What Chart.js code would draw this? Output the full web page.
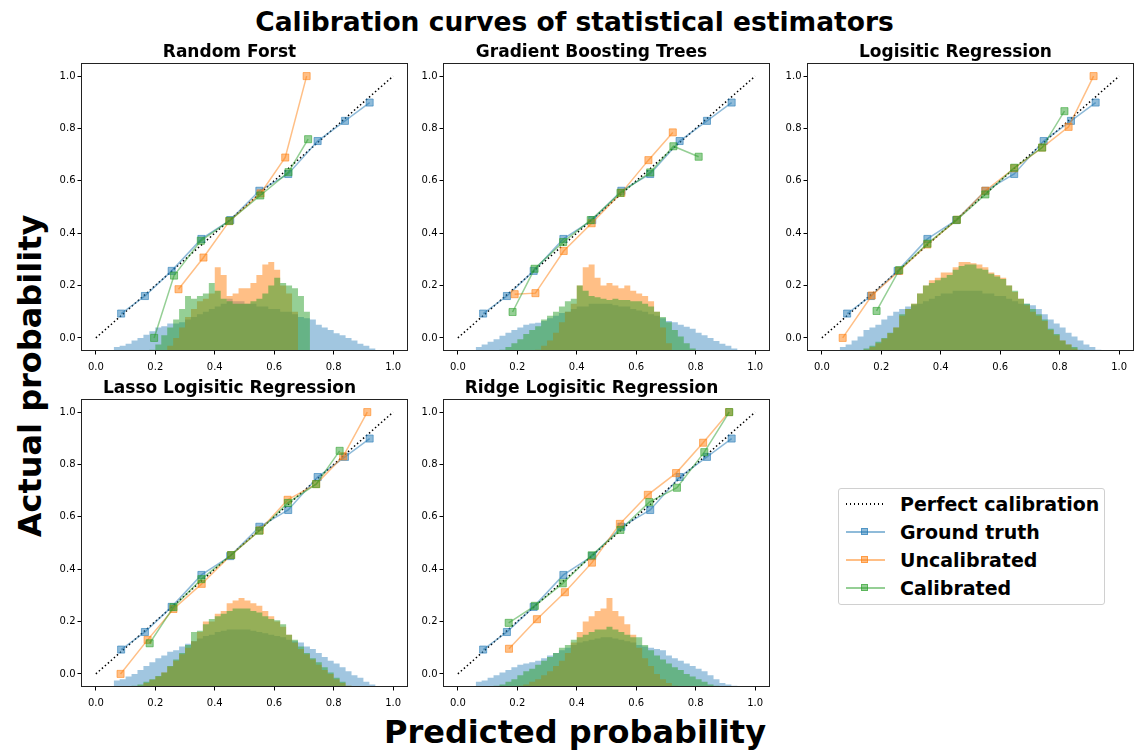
<!DOCTYPE html>
<html lang="en">
<head>
    <meta charset="UTF-8">
    <title>Calibration curves of statistical estimators</title>
    <script src="https://cdn.jsdelivr.net/npm/chart.js"></script>
    <style>
        html, body {
            margin: 0;
            padding: 0;
            background: #fff;
            overflow: hidden;
        }
        body {
            position: relative;
            width: 1135px;
            height: 754px;
            font-family: 'DejaVu Sans', sans-serif;
            color: #000;
        }
        canvas.panel {
            position: absolute;
        }
        .fig-text {
            position: absolute;
            font-weight: bold;
            line-height: 1;
            white-space: nowrap;
            transform: translateX(-50%);
        }
        .legend {
            position: absolute;
            left: 838px;
            top: 488px;
            width: 267px;
            height: 117px;
            border: 1px solid #d0d0d0;
            border-radius: 3px;
            box-sizing: border-box;
        }
        .legend-row {
            position: absolute;
            left: 0;
            height: 24px;
            width: 100%;
        }
        .legend-line {
            position: absolute;
            left: 7px;
            top: 11px;
            width: 39px;
            height: 1.5px;
        }
        .legend-mark {
            position: absolute;
            left: 22px;
            top: 8px;
            width: 7px;
            height: 7px;
            box-sizing: border-box;
        }
        .legend-label {
            position: absolute;
            left: 61px;
            top: 2px;
            font-size: 19px;
            font-weight: bold;
            line-height: 20px;
            white-space: nowrap;
        }
    </style>
</head>
<body>
    <div class="fig-text" style="left:574.5px; top:9px; font-size:26.5px;">Calibration curves of statistical estimators</div>
    <div class="fig-text" style="left:575px; top:716px; font-size:32px;">Predicted probability</div>
    <div class="fig-text" style="left:30px; top:360px; font-size:32px; transform: translateX(-50%) rotate(-90deg);">Actual probability</div>

    <div class="legend" id="legend"></div>

    <script>
        // axis ticks
        const tickValues = [0, 0.2, 0.4, 0.6, 0.8, 1.0];
        const perfectX = [0, 1];
        const perfectY = [0, 1];

        // histogram bin edges (left edges, last one closes the final bin)
        const binEdges = [0.06, 0.08, 0.10, 0.12, 0.14, 0.16, 0.18, 0.20, 0.22, 0.24,
                          0.26, 0.28, 0.30, 0.32, 0.34, 0.36, 0.38, 0.40, 0.42, 0.44,
                          0.46, 0.48, 0.50, 0.52, 0.54, 0.56, 0.58, 0.60, 0.62, 0.64,
                          0.66, 0.68, 0.70, 0.72, 0.74, 0.76, 0.78, 0.80, 0.82, 0.84,
                          0.86, 0.88, 0.90, 0.92, 0.94, 0.96, 0.98];

        const panelTitles = ['Random Forst', 'Gradient Boosting Trees', 'Logisitic Regression',
                             'Lasso Logisitic Regression', 'Ridge Logisitic Regression'];

        // ground truth curve (same in every panel)
        const truthX = [0.085, 0.165, 0.255, 0.355, 0.452, 0.55, 0.647, 0.746, 0.838, 0.921];
        const truthY = [0.093, 0.16, 0.256, 0.378, 0.45, 0.562, 0.626, 0.752, 0.829, 0.899];

        // Random forest
        const rfUncalX = [0.278, 0.362, 0.449, 0.554, 0.637, 0.709];
        const rfUncalY = [0.186, 0.307, 0.446, 0.552, 0.689, 1.0];
        const rfCalX = [0.196, 0.263, 0.353, 0.449, 0.553, 0.648, 0.714];
        const rfCalY = [0.0, 0.238, 0.371, 0.447, 0.544, 0.633, 0.759];
        const rfHistTruth = [-0.05, -0.035, -0.03, -0.022, -0.01, 0.0, 0.012, 0.025, 0.04, 0.045,
                             0.055, 0.055, 0.06, 0.07, 0.08, 0.09, 0.1, 0.11, 0.12, 0.13,
                             0.15, 0.14, 0.14, 0.13, 0.13, 0.12, 0.12, 0.11, 0.11, 0.1,
                             0.1, 0.09, 0.08, 0.075, 0.07, 0.05, 0.04, 0.03, 0.018, 0.01,
                             0.0, -0.01, -0.022, -0.03, -0.04, -0.05];
        const rfHistUncal = [-0.05, -0.05, -0.05, -0.05, -0.05, -0.05, -0.05, -0.05, -0.05, -0.05,
                             -0.03, 0.0, 0.04, 0.08, 0.11, 0.14, 0.15, 0.17, 0.27, 0.24,
                             0.16, 0.17, 0.19, 0.19, 0.21, 0.24, 0.28, 0.29, 0.26, 0.2,
                             0.17, 0.1, -0.05, -0.05, -0.05, -0.05, -0.05, -0.05, -0.05, -0.05,
                             -0.05, -0.05, -0.05, -0.05, -0.05, -0.05];
        const rfHistCal = [-0.05, -0.05, -0.05, -0.05, -0.05, -0.05, -0.05, -0.045, -0.025, 0.01,
                           0.04, 0.07, 0.11, 0.16, 0.15, 0.16, 0.17, 0.21, 0.18, 0.15,
                           0.14, 0.13, 0.13, 0.13, 0.14, 0.15, 0.17, 0.2, 0.23, 0.21,
                           0.2, 0.19, 0.16, 0.1, -0.05, -0.05, -0.05, -0.05, -0.05, -0.05,
                           -0.05, -0.05, -0.05, -0.05, -0.05, -0.05];

        // Gradient boosting trees
        const gbUncalX = [0.191, 0.261, 0.356, 0.45, 0.55, 0.641, 0.723];
        const gbUncalY = [0.167, 0.171, 0.332, 0.438, 0.554, 0.679, 0.785];
        const gbCalX = [0.184, 0.258, 0.354, 0.447, 0.547, 0.647, 0.725, 0.81];
        const gbCalY = [0.099, 0.264, 0.366, 0.45, 0.554, 0.632, 0.732, 0.692];
        const gbHistTruth = [-0.05, -0.035, -0.025, -0.015, -0.005, 0.008, 0.02, 0.03, 0.04, 0.05,
                             0.055, 0.058, 0.065, 0.075, 0.085, 0.095, 0.1, 0.11, 0.12, 0.12,
                             0.13, 0.13, 0.13, 0.13, 0.125, 0.12, 0.12, 0.11, 0.105, 0.1,
                             0.09, 0.085, 0.075, 0.065, 0.06, 0.05, 0.043, 0.035, 0.02, 0.01,
                             0.0, -0.012, -0.022, -0.03, -0.04, -0.05];
        const gbHistUncal = [-0.05, -0.05, -0.05, -0.05, -0.05, -0.05, -0.05, -0.05, -0.05, -0.05,
                             -0.05, -0.045, -0.03, -0.01, 0.02, 0.06, 0.1, 0.13, 0.2, 0.27,
                             0.28, 0.23, 0.2, 0.21, 0.2, 0.19, 0.2, 0.18, 0.17, 0.16,
                             0.14, 0.1, 0.04, -0.02, -0.05, -0.05, -0.05, -0.05, -0.05, -0.05,
                             -0.05, -0.05, -0.05, -0.05, -0.05, -0.05];
        const gbHistCal = [-0.05, -0.05, -0.05, -0.05, -0.05, -0.045, -0.035, -0.02, -0.005, 0.015,
                           0.03, 0.045, 0.07, 0.085, 0.1, 0.12, 0.14, 0.15, 0.2, 0.18,
                           0.16, 0.155, 0.15, 0.145, 0.15, 0.145, 0.145, 0.14, 0.14, 0.13,
                           0.12, 0.1, 0.08, 0.06, 0.03, 0.005, -0.02, -0.04, -0.05, -0.05,
                           -0.05, -0.05, -0.05, -0.05, -0.05, -0.05];

        // Logistic regression
        const lrUncalX = [0.07, 0.168, 0.26, 0.355, 0.454, 0.55, 0.647, 0.741, 0.83, 0.914];
        const lrUncalY = [0.0, 0.162, 0.256, 0.357, 0.451, 0.562, 0.648, 0.727, 0.806, 1.0];
        const lrCalX = [0.184, 0.26, 0.355, 0.454, 0.55, 0.647, 0.741, 0.816];
        const lrCalY = [0.103, 0.259, 0.36, 0.451, 0.548, 0.65, 0.727, 0.866];
        const lrHistTruth = [-0.05, -0.035, -0.025, -0.01, 0.005, 0.03, 0.04, 0.05, 0.07, 0.085,
                             0.1, 0.11, 0.12, 0.125, 0.13, 0.14, 0.15, 0.16, 0.17, 0.17,
                             0.18, 0.18, 0.18, 0.18, 0.18, 0.17, 0.17, 0.16, 0.16, 0.15,
                             0.14, 0.13, 0.13, 0.125, 0.11, 0.09, 0.07, 0.055, 0.04, 0.02,
                             0.005, -0.01, -0.025, -0.035, -0.045, -0.05];
        const lrHistUncal = [-0.05, -0.05, -0.05, -0.05, -0.05, -0.045, -0.035, -0.02, -0.003, 0.018,
                             0.04, 0.085, 0.11, 0.13, 0.17, 0.2, 0.22, 0.23, 0.25, 0.25,
                             0.27, 0.29, 0.29, 0.285, 0.28, 0.27, 0.25, 0.24, 0.23, 0.2,
                             0.175, 0.15, 0.125, 0.1, 0.085, 0.065, 0.03, 0.01, -0.01, -0.025,
                             -0.04, -0.048, -0.05, -0.05, -0.05, -0.05];
        const lrHistCal = [-0.05, -0.05, -0.05, -0.05, -0.05, -0.04, -0.03, -0.015, 0.0, 0.02,
                           0.04, 0.09, 0.11, 0.13, 0.17, 0.2, 0.21, 0.22, 0.23, 0.24,
                           0.26, 0.275, 0.28, 0.28, 0.265, 0.26, 0.245, 0.235, 0.225, 0.2,
                           0.18, 0.15, 0.13, 0.11, 0.09, 0.07, 0.035, 0.015, -0.01, -0.025,
                           -0.035, -0.045, -0.05, -0.05, -0.05, -0.05];

        // Lasso logistic regression
        const lassoUncalX = [0.083, 0.174, 0.261, 0.356, 0.455, 0.551, 0.645, 0.741, 0.832, 0.913];
        const lassoUncalY = [0.0, 0.13, 0.248, 0.344, 0.454, 0.548, 0.665, 0.725, 0.831, 1.0];
        const lassoCalX = [0.181, 0.261, 0.355, 0.455, 0.55, 0.646, 0.741, 0.82];
        const lassoCalY = [0.117, 0.255, 0.362, 0.454, 0.547, 0.653, 0.725, 0.852];
        const lassoHistTruth = [-0.05, -0.025, -0.02, -0.01, 0.0, 0.015, 0.03, 0.045, 0.06, 0.07,
                                0.085, 0.09, 0.105, 0.115, 0.125, 0.135, 0.145, 0.15, 0.16, 0.165,
                                0.17, 0.17, 0.17, 0.17, 0.165, 0.16, 0.155, 0.15, 0.145, 0.14,
                                0.13, 0.125, 0.12, 0.105, 0.095, 0.08, 0.065, 0.05, 0.04, 0.025,
                                0.01, -0.005, -0.015, -0.03, -0.04, -0.05];
        const lassoHistUncal = [-0.05, -0.05, -0.05, -0.05, -0.05, -0.045, -0.035, -0.022, -0.01, 0.005,
                                0.028, 0.05, 0.075, 0.1, 0.125, 0.16, 0.2, 0.2, 0.23, 0.24,
                                0.27, 0.28, 0.29, 0.28, 0.27, 0.26, 0.24, 0.22, 0.2, 0.18,
                                0.15, 0.12, 0.095, 0.075, 0.055, 0.035, 0.015, 0.0, -0.02, -0.035,
                                -0.045, -0.05, -0.05, -0.05, -0.05, -0.05];
        const lassoHistCal = [-0.05, -0.05, -0.05, -0.05, -0.045, -0.04, -0.03, -0.02, -0.008, 0.005,
                              0.03, 0.055, 0.08, 0.11, 0.16, 0.165, 0.19, 0.21, 0.22, 0.23,
                              0.24, 0.25, 0.25, 0.25, 0.24, 0.235, 0.22, 0.21, 0.205, 0.19,
                              0.15, 0.13, 0.105, 0.08, 0.06, 0.045, 0.025, 0.005, -0.015, -0.03,
                              -0.045, -0.05, -0.05, -0.05, -0.05, -0.05];

        // Ridge logistic regression
        const ridgeUncalX = [0.172, 0.266, 0.36, 0.451, 0.545, 0.639, 0.734, 0.825, 0.912];
        const ridgeUncalY = [0.096, 0.209, 0.312, 0.425, 0.573, 0.684, 0.767, 0.883, 1.0];
        const ridgeCalX = [0.171, 0.259, 0.353, 0.45, 0.547, 0.644, 0.737, 0.829, 0.913];
        const ridgeCalY = [0.195, 0.26, 0.346, 0.453, 0.55, 0.656, 0.711, 0.847, 1.0];
        const ridgeHistTruth = [-0.05, -0.03, -0.025, -0.015, -0.005, 0.005, 0.015, 0.025, 0.035, 0.04,
                                0.045, 0.05, 0.06, 0.07, 0.08, 0.09, 0.1, 0.11, 0.12, 0.125,
                                0.13, 0.135, 0.14, 0.14, 0.135, 0.13, 0.125, 0.12, 0.11, 0.105,
                                0.1, 0.095, 0.09, 0.07, 0.06, 0.05, 0.04, 0.03, 0.02, 0.01,
                                -0.005, -0.02, -0.035, -0.04, -0.045, -0.05];
        const ridgeHistUncal = [-0.05, -0.05, -0.05, -0.05, -0.05, -0.05, -0.05, -0.05, -0.045, -0.04,
                                -0.03, -0.02, -0.005, 0.01, 0.03, 0.05, 0.08, 0.12, 0.16, 0.2,
                                0.22, 0.24, 0.25, 0.29, 0.24, 0.22, 0.19, 0.15, 0.1, 0.06,
                                0.03, 0.0, -0.02, -0.035, -0.045, -0.05, -0.05, -0.05, -0.05, -0.05,
                                -0.05, -0.05, -0.05, -0.05, -0.05, -0.05];
        const ridgeHistCal = [-0.05, -0.05, -0.05, -0.05, -0.045, -0.04, -0.03, -0.02, -0.005, 0.01,
                              0.02, 0.035, 0.05, 0.065, 0.08, 0.1, 0.11, 0.13, 0.14, 0.15,
                              0.16, 0.17, 0.17, 0.18, 0.17, 0.16, 0.15, 0.14, 0.14, 0.11,
                              0.09, 0.07, 0.055, 0.04, 0.025, 0.015, 0.0, -0.01, -0.02, -0.03,
                              -0.04, -0.045, -0.05, -0.05, -0.05, -0.05];

        const panels = [
            { uncalX: rfUncalX, uncalY: rfUncalY, calX: rfCalX, calY: rfCalY,
              histTruth: rfHistTruth, histUncal: rfHistUncal, histCal: rfHistCal },
            { uncalX: gbUncalX, uncalY: gbUncalY, calX: gbCalX, calY: gbCalY,
              histTruth: gbHistTruth, histUncal: gbHistUncal, histCal: gbHistCal },
            { uncalX: lrUncalX, uncalY: lrUncalY, calX: lrCalX, calY: lrCalY,
              histTruth: lrHistTruth, histUncal: lrHistUncal, histCal: lrHistCal },
            { uncalX: lassoUncalX, uncalY: lassoUncalY, calX: lassoCalX, calY: lassoCalY,
              histTruth: lassoHistTruth, histUncal: lassoHistUncal, histCal: lassoHistCal },
            { uncalX: ridgeUncalX, uncalY: ridgeUncalY, calX: ridgeCalX, calY: ridgeCalY,
              histTruth: ridgeHistTruth, histUncal: ridgeHistUncal, histCal: ridgeHistCal }
        ];

        // plot area placement (left, top of the axes box, in page px)
        const boxes = [
            { left: 81, top: 63 }, { left: 443, top: 63 }, { left: 807, top: 63 },
            { left: 81, top: 399 }, { left: 443, top: 399 }
        ];
        const AXES_W = 327, AXES_H = 288;
        const Y_AXIS_W = 30, X_AXIS_H = 26, TITLE_H = 28, PAD_R = 12;

        const BLUE = '31,119,180', ORANGE = '255,127,14', GREEN = '44,160,44';
        const rgba = (c, a) => `rgba(${c},${a})`;

        Chart.defaults.font.family = "'DejaVu Sans', sans-serif";
        Chart.defaults.color = '#000';

        const pairs = (xs, ys) => xs.map((x, i) => ({ x: x, y: ys[i] }));
        const histPoints = vals => {
            const pts = vals.map((v, i) => ({ x: binEdges[i], y: v }));
            pts.push({ x: binEdges[binEdges.length - 1], y: -0.05 });
            return pts;
        };

        // axes frame on all four sides
        const framePlugin = {
            id: 'frame',
            afterDraw(chart) {
                const a = chart.chartArea;
                const ctx = chart.ctx;
                ctx.save();
                ctx.strokeStyle = '#222';
                ctx.lineWidth = 1;
                ctx.strokeRect(Math.round(a.left) + 0.5, Math.round(a.top) + 0.5,
                               Math.round(a.right - a.left) - 1, Math.round(a.bottom - a.top) - 1);
                ctx.restore();
            }
        };

        function curve(data, color, order) {
            return {
                data: data,
                borderColor: rgba(color, 0.5),
                backgroundColor: rgba(color, 0.5),
                borderWidth: 1.5,
                pointStyle: 'rect',
                pointRadius: 5,
                pointBorderWidth: 1,
                pointBorderColor: rgba(color, 0.55),
                pointBackgroundColor: rgba(color, 0.5),
                fill: false,
                tension: 0,
                order: order
            };
        }

        function hist(vals, color, alpha, order) {
            return {
                data: histPoints(vals),
                stepped: 'after',
                fill: 'start',
                backgroundColor: rgba(color, alpha),
                borderColor: 'transparent',
                borderWidth: 0,
                pointRadius: 0,
                order: order
            };
        }

        function axisOpts(isX) {
            return {
                type: 'linear',
                min: -0.05,
                max: 1.05,
                afterBuildTicks: s => { s.ticks = tickValues.map(v => ({ value: v })); },
                afterFit: s => { if (isX) s.height = X_AXIS_H; else s.width = Y_AXIS_W; },
                ticks: {
                    autoSkip: false,
                    maxRotation: 0,
                    padding: isX ? 7 : 2,
                    font: { size: 10 },
                    color: '#000',
                    callback: v => Number(v).toFixed(1)
                },
                grid: {
                    drawOnChartArea: false,
                    drawTicks: true,
                    tickLength: 3.5,
                    tickColor: '#000'
                },
                border: { display: false }
            };
        }

        panels.forEach((p, k) => {
            const b = boxes[k];
            const cv = document.createElement('canvas');
            cv.className = 'panel';
            const w = Y_AXIS_W + AXES_W + PAD_R;
            const h = TITLE_H + AXES_H + X_AXIS_H;
            cv.width = w;
            cv.height = h;
            cv.style.width = w + 'px';
            cv.style.height = h + 'px';
            cv.style.left = (b.left - Y_AXIS_W) + 'px';
            cv.style.top = (b.top - TITLE_H) + 'px';
            document.body.appendChild(cv);

            new Chart(cv, {
                type: 'line',
                data: {
                    datasets: [
                        {
                            data: pairs(perfectX, perfectY),
                            borderColor: '#000',
                            borderWidth: 1.5,
                            borderDash: [1.5, 2.5],
                            pointRadius: 0,
                            fill: false,
                            order: 3
                        },
                        curve(pairs(truthX, truthY), BLUE, 2),
                        curve(pairs(p.uncalX, p.uncalY), ORANGE, 1),
                        curve(pairs(p.calX, p.calY), GREEN, 0),
                        hist(p.histTruth, BLUE, 0.42, 12),
                        hist(p.histUncal, ORANGE, 0.5, 11),
                        hist(p.histCal, GREEN, 0.5, 10)
                    ]
                },
                options: {
                    responsive: false,
                    animation: false,
                    devicePixelRatio: 1,
                    layout: { padding: { left: 0, right: PAD_R, top: 0, bottom: 0 } },
                    plugins: {
                        legend: { display: false },
                        tooltip: { enabled: false },
                        title: {
                            display: true,
                            text: panelTitles[k],
                            font: { size: 17, weight: 'bold', lineHeight: 1.2 },
                            color: '#000',
                            padding: { top: 7.6, bottom: 0 }
                        }
                    },
                    scales: {
                        x: axisOpts(true),
                        y: axisOpts(false)
                    }
                },
                plugins: [framePlugin]
            });
        });

        // figure legend
        const legendItems = [
            { label: 'Perfect calibration', color: null },
            { label: 'Ground truth', color: BLUE },
            { label: 'Uncalibrated', color: ORANGE },
            { label: 'Calibrated', color: GREEN }
        ];
        const legend = document.getElementById('legend');
        legendItems.forEach((it, i) => {
            const row = document.createElement('div');
            row.className = 'legend-row';
            row.style.top = (3 + i * 28) + 'px';
            const line = document.createElement('div');
            line.className = 'legend-line';
            if (it.color) {
                line.style.background = rgba(it.color, 0.5);
                const mark = document.createElement('div');
                mark.className = 'legend-mark';
                mark.style.background = rgba(it.color, 0.5);
                mark.style.border = '1px solid ' + rgba(it.color, 0.55);
                row.appendChild(line);
                row.appendChild(mark);
            } else {
                line.style.background = 'repeating-linear-gradient(to right, #000 0 1.5px, transparent 1.5px 4px)';
                row.appendChild(line);
            }
            const txt = document.createElement('div');
            txt.className = 'legend-label';
            txt.textContent = it.label;
            row.appendChild(txt);
            legend.appendChild(row);
        });
    </script>
</body>
</html>
